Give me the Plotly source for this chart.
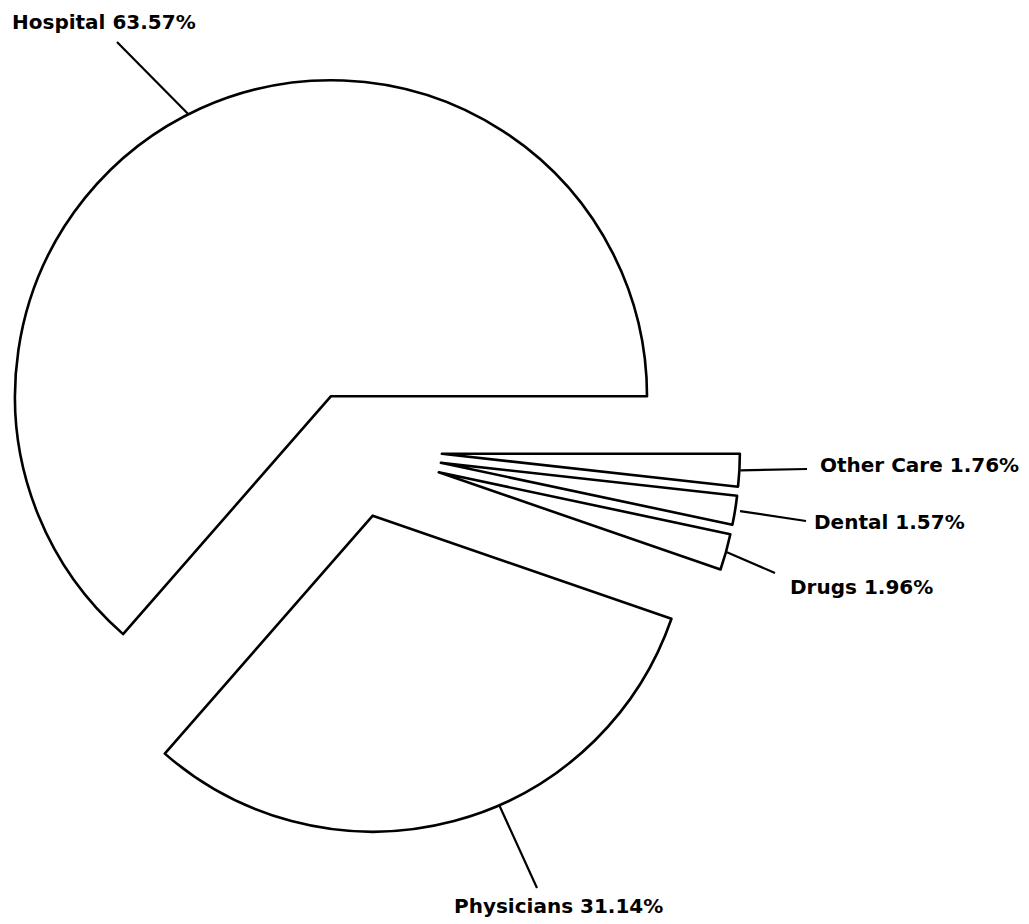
import math
import plotly.graph_objects as go

# Spending shares (%), listed clockwise starting from 3 o'clock
categories = ["Other Care", "Dental", "Drugs", "Physicians", "Hospital"]
shares = [1.76, 1.57, 1.96, 31.14, 63.57]

# ---- layout (pixels) ----
W, H = 1029, 924
CENTER = (355.0, 449.0)                     # common centre before the slices are pulled out
PULL = {"Hospital": 58, "Physicians": 69, "Other Care": 87, "Dental": 87, "Drugs": 87}
RADIUS = {"Hospital": 316, "Physicians": 316, "Other Care": 298, "Dental": 298, "Drugs": 298}
LINE_W = 2.6

# label centres and where each leader line ends next to its label
LABEL_POS = {
    "Hospital": (104, 22),
    "Physicians": (558, 906),
    "Other Care": (919, 465),
    "Dental": (889, 522),
    "Drugs": (861, 587),
}
LEADER_END = {
    "Hospital": (117, 42),
    "Physicians": (537, 888),
    "Other Care": (807, 469),
    "Dental": (806, 521),
    "Drugs": (775, 573),
}
LEADER_ANGLE_OFFSET = {"Hospital": 2.4, "Physicians": 8.7, "Other Care": 0, "Dental": 0, "Drugs": 0}
LEADER_GAP = {"Hospital": 0, "Physicians": 0, "Other Care": 1, "Dental": 5, "Drugs": 1}

FONT = dict(family="DejaVu Sans", size=20, color="black", weight="bold")


def px_to_paper(x, y):
    return x / W, 1 - y / H


def polar(origin, dist, theta_deg):
    t = math.radians(theta_deg)
    return origin[0] + dist * math.cos(t), origin[1] - dist * math.sin(t)


total = sum(shares)
fig = go.Figure()
shapes, annotations = [], []

cum = 0.0
for i, (name, v) in enumerate(zip(categories, shares)):
    start_cw = 360 * cum / total
    cum += v
    end_cw = 360 * cum / total
    mid = -(start_cw + end_cw) / 2          # mid angle, counter-clockwise from east

    vertex = polar(CENTER, PULL[name], mid)
    r = RADIUS[name]
    x0, y1 = px_to_paper(vertex[0] - r, vertex[1] - r)
    x1, y0 = px_to_paper(vertex[0] + r, vertex[1] + r)

    # one pie per slice so each can sit at its own pulled-out position and radius
    fig.add_trace(go.Pie(
        labels=categories,
        values=shares,
        sort=False,
        direction="clockwise",
        rotation=90,
        textinfo="none",
        hoverinfo="none",
        showlegend=False,
        domain=dict(x=[x0, x1], y=[y0, y1]),
        marker=dict(
            colors=["white" if j == i else "rgba(0,0,0,0)" for j in range(len(categories))],
            line=dict(
                color="black",
                width=[LINE_W if j == i else 0 for j in range(len(categories))],
            ),
        ),
    ))

    # leader line from the slice's rim to its label
    sx, sy = polar(vertex, r + LEADER_GAP[name], mid + LEADER_ANGLE_OFFSET[name])
    ex, ey = LEADER_END[name]
    ax0, ay0 = px_to_paper(sx, sy)
    ax1, ay1 = px_to_paper(ex, ey)
    shapes.append(dict(type="line", xref="paper", yref="paper",
                       x0=ax0, y0=ay0, x1=ax1, y1=ay1,
                       line=dict(color="black", width=2.2)))

    lx, ly = px_to_paper(*LABEL_POS[name])
    annotations.append(dict(
        text=f"{name} {v:.2f}%", x=lx, y=ly, xref="paper", yref="paper",
        xanchor="center", yanchor="middle", showarrow=False, font=FONT,
    ))

fig.update_layout(
    width=W, height=H,
    margin=dict(l=0, r=0, t=0, b=0),
    paper_bgcolor="white",
    plot_bgcolor="white",
    shapes=shapes,
    annotations=annotations,
)

fig.write_html("out.html")
